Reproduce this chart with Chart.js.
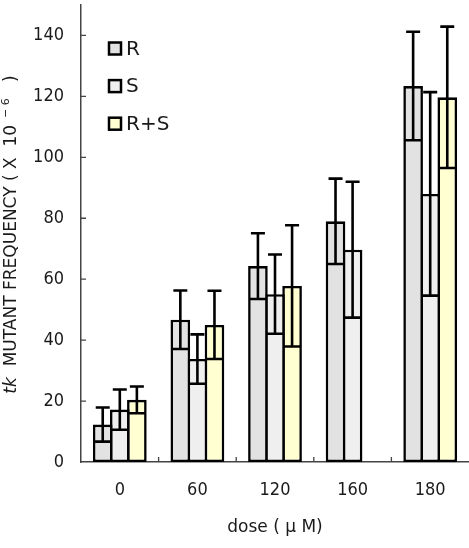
<!DOCTYPE html>
<html>
<head>
<meta charset="utf-8">
<script src="https://cdn.jsdelivr.net/npm/chart.js@4/dist/chart.umd.min.js"></script>
<style>
html,body{margin:0;padding:0;background:#fff;}
canvas{display:block;}
</style>
</head>
<body>
<canvas id="c" width="469" height="548"></canvas>
<script>
const categories = ['0', '60', '120', '160', '180'];
const seriesNames = ['R', 'S', 'R+S'];
const rValues  = [12.3, 46.7, 64.3, 79.0, 123.4];
const rErrors  = [5.6, 9.6, 10.8, 14.0, 17.8];
const sValues  = [17.2, 33.8, 55.1, 69.7, 88.0];
const sErrors  = [6.6, 8.1, 13.0, 22.3, 33.4];
const rsValues = [20.4, 45.0, 57.8, null, 119.7];
const rsErrors = [4.4, 11.2, 19.9, null, 23.2];
const yTickValues = [0, 20, 40, 60, 80, 100, 120, 140];
const xTitle = 'dose ( \u03bc M)';

const TICK_FONT = 'DejaVu Sans Condensed, DejaVu Sans, sans-serif';
const TEXT_COLOR = '#1a1a1a';
const fills = ['#e2e2e2', '#efefef', '#ffffd2'];
const errorSets = [rErrors, sErrors, rsErrors];

const errorBarPlugin = {
  id: 'errorBars',
  afterDatasetsDraw(chart) {
    const ctx = chart.ctx;
    const ys = chart.scales.y;
    ctx.save();
    ctx.strokeStyle = '#000';
    ctx.lineWidth = 2.6;
    ctx.lineCap = 'butt';
    chart.data.datasets.forEach((ds, i) => {
      const meta = chart.getDatasetMeta(i);
      const errs = errorSets[i];
      meta.data.forEach((bar, j) => {
        const v = ds.data[j];
        const e = errs[j];
        if (v === null || e === null) return;
        const x = bar.x;
        const yUp = ys.getPixelForValue(v + e);
        const yLo = ys.getPixelForValue(v - e);
        const half = bar.width / 2 - 1.3;
        ctx.beginPath();
        ctx.moveTo(x, yUp);
        ctx.lineTo(x, yLo);
        ctx.moveTo(x - 7, yUp);
        ctx.lineTo(x + 7, yUp);
        ctx.moveTo(x - half, yLo);
        ctx.lineTo(x + half, yLo);
        ctx.stroke();
      });
    });
    ctx.restore();
  }
};

const decorPlugin = {
  id: 'decor',
  afterDraw(chart) {
    const ctx = chart.ctx;
    const xs = chart.scales.x, ys = chart.scales.y;
    const area = chart.chartArea;
    ctx.save();
    ctx.strokeStyle = '#444';
    ctx.lineWidth = 1.3;
    ctx.beginPath();
    yTickValues.forEach(v => {
      if (v === 0) return;
      const y = ys.getPixelForValue(v);
      ctx.moveTo(area.left, y);
      ctx.lineTo(area.left + 5, y);
    });
    for (let i = 0; i < categories.length - 1; i++) {
      const bx = (xs.getPixelForValue(i) + xs.getPixelForValue(i + 1)) / 2;
      ctx.moveTo(bx, area.bottom);
      ctx.lineTo(bx, area.bottom - 5);
    }
    ctx.stroke();

    const lx = 109, ly0 = 48.5, step = 37.6;
    chart.data.datasets.forEach((ds, i) => {
      const cy = ly0 + i * step;
      ctx.fillStyle = ds.backgroundColor;
      ctx.fillRect(lx, cy - 6, 12, 12);
      ctx.strokeStyle = '#000';
      ctx.lineWidth = 2.5;
      ctx.strokeRect(lx, cy - 6, 12, 12);
      ctx.fillStyle = TEXT_COLOR;
      ctx.font = '20px DejaVu Sans, sans-serif';
      ctx.textBaseline = 'middle';
      ctx.textAlign = 'left';
      ctx.fillText(ds.label, lx + 17, cy + 1);
    });

    ctx.fillStyle = TEXT_COLOR;
    ctx.font = '17px DejaVu Sans, sans-serif';
    ctx.textAlign = 'center';
    ctx.textBaseline = 'middle';
    ctx.fillText(xTitle, (area.left + area.right) / 2, 528);

    const parts = [
      { t: 'tk', f: 'italic 17px DejaVu Sans, sans-serif', dy: 0 },
      { t: '  MUTANT FREQUENCY ( X  10', f: '17px DejaVu Sans, sans-serif', dy: 0 },
      { t: '  \u2212 6', f: '11px DejaVu Sans, sans-serif', dy: -6 },
      { t: '   )', f: '17px DejaVu Sans, sans-serif', dy: 0 }
    ];
    let total = 0;
    parts.forEach(p => { ctx.font = p.f; p.w = ctx.measureText(p.t).width; total += p.w; });
    ctx.translate(12, 234.5);
    ctx.rotate(-Math.PI / 2);
    ctx.textAlign = 'left';
    let px = -total / 2;
    parts.forEach(p => {
      ctx.font = p.f;
      ctx.fillText(p.t, px, p.dy);
      px += p.w;
    });
    ctx.restore();
  }
};

const valueSets = [rValues, sValues, rsValues];
const datasets = seriesNames.map((name, i) => ({
  label: name,
  data: valueSets[i],
  backgroundColor: fills[i],
  borderColor: '#000',
  borderWidth: 2.6,
  borderSkipped: false,
  barPercentage: 1.15,
  categoryPercentage: 0.66
}));

new Chart(document.getElementById('c'), {
  type: 'bar',
  data: { labels: categories, datasets },
  plugins: [errorBarPlugin, decorPlugin],
  options: {
    responsive: false,
    devicePixelRatio: 1,
    animation: false,
    layout: { padding: { top: 5, right: 0, left: 0, bottom: 0 } },
    plugins: { legend: { display: false }, tooltip: { enabled: false } },
    scales: {
      x: {
        grid: { display: false, drawTicks: false },
        border: { display: true, color: '#444', width: 1.5 },
        ticks: { color: TEXT_COLOR, font: { family: TICK_FONT, size: 18 }, padding: 18 },
        afterFit(scale) { scale.height = 86; scale.paddingLeft = 0; scale.paddingRight = 0; }
      },
      y: {
        min: 0,
        max: 150,
        grid: { display: false, drawTicks: false },
        border: { display: true, color: '#444', width: 1.5 },
        ticks: { stepSize: 20, color: TEXT_COLOR, font: { family: TICK_FONT, size: 18 }, padding: 17 },
        afterBuildTicks(scale) { scale.ticks = yTickValues.map(v => ({ value: v })); },
        afterFit(scale) { scale.width = 81; scale.paddingTop = 0; scale.paddingBottom = 0; }
      }
    }
  }
});
</script>
</body>
</html>
